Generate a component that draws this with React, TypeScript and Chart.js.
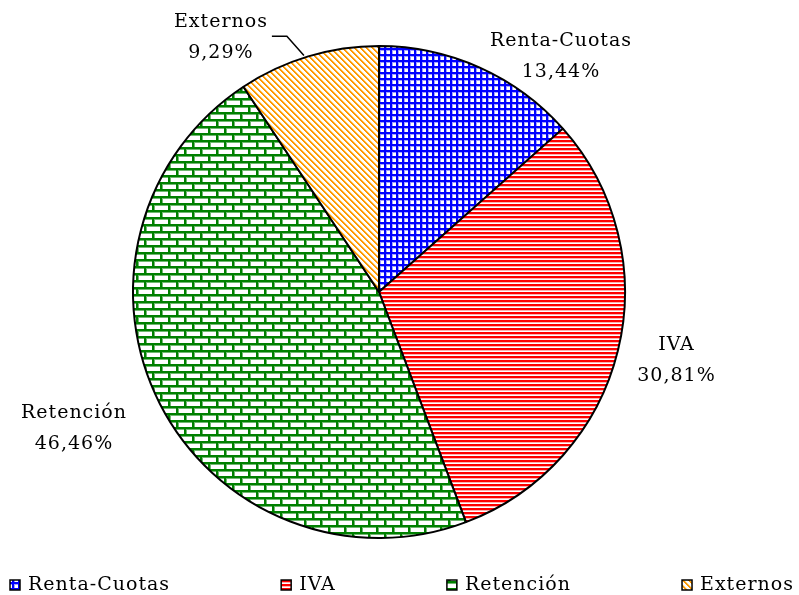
import React, { useEffect, useRef } from "react";
import { Chart, registerables } from "chart.js";

Chart.register(...registerables);

// ---- data ----
const categories = ["Renta-Cuotas", "IVA", "Retención", "Externos"];
const shares = [13.44, 30.81, 46.46, 9.29];
const patternKinds = ["grid", "hstripes", "bricks", "diagonal"];

// ---- label layout (radial distance beyond rim, alignment, nudges) ----
const labelLayout = [
  { dist: 15, align: "left", dx: 4, dy: 3, leader: false },
  { dist: 20, align: "left", dx: 0, dy: 5, leader: false },
  { dist: 37, align: "right", dx: 0, dy: 8, leader: false },
  { dist: 22, align: "right", dx: -34, dy: 2, leader: true },
];

const FONT_FAMILY = '"DejaVu Serif", "Liberation Serif", serif';
const LABEL_FONT = `19px ${FONT_FAMILY}`;
const LETTER_SPACING = "1px";
const LINE_H = 31;

const fmtPct = (v: number) => v.toFixed(2).replace(".", ",") + "%";

function makePattern(kind: string): CanvasPattern | string {
  const c = document.createElement("canvas");
  let ctx: CanvasRenderingContext2D | null = null;
  if (kind === "grid") {
    c.width = 6; c.height = 6;
    ctx = c.getContext("2d")!;
    ctx.fillStyle = "#ffffff"; ctx.fillRect(0, 0, 6, 6);
    ctx.fillStyle = "#a0a0ff"; ctx.fillRect(0, 0, 6, 3); ctx.fillRect(0, 0, 3, 6);
    ctx.fillStyle = "#0000ff"; ctx.fillRect(0, 0, 6, 2); ctx.fillRect(0, 0, 2, 6);
  } else if (kind === "hstripes") {
    c.width = 4; c.height = 4;
    ctx = c.getContext("2d")!;
    ctx.fillStyle = "#ffffff"; ctx.fillRect(0, 0, 4, 4);
    ctx.fillStyle = "#ffb0b0"; ctx.fillRect(0, 2, 4, 1);
    ctx.fillStyle = "#ff0000"; ctx.fillRect(0, 0, 4, 2);
  } else if (kind === "bricks") {
    c.width = 16; c.height = 14;
    ctx = c.getContext("2d")!;
    ctx.fillStyle = "#ffffff"; ctx.fillRect(0, 0, 16, 14);
    ctx.fillStyle = "#70b870";
    ctx.fillRect(0, 2, 16, 1); ctx.fillRect(0, 9, 16, 1);
    ctx.fillRect(2, 0, 1, 7); ctx.fillRect(10, 7, 1, 7);
    ctx.fillStyle = "#008000";
    ctx.fillRect(0, 0, 16, 2); ctx.fillRect(0, 7, 16, 2);
    ctx.fillRect(0, 0, 2, 7); ctx.fillRect(8, 7, 2, 7);
  } else {
    c.width = 6; c.height = 6;
    ctx = c.getContext("2d")!;
    ctx.fillStyle = "#ffffff"; ctx.fillRect(0, 0, 6, 6);
    for (let i = 0; i < 6; i++) {
      ctx.fillStyle = "#ffd890"; ctx.fillRect((i + 2) % 6, i, 1, 1);
      ctx.fillStyle = "#ff9900"; ctx.fillRect(i, i, 1, 1); ctx.fillRect((i + 1) % 6, i, 1, 1);
    }
  }
  return ctx.createPattern(c, "repeat") || "#ccc";
}

function setTextStyle(ctx: CanvasRenderingContext2D) {
  ctx.font = LABEL_FONT;
  try { (ctx as any).letterSpacing = LETTER_SPACING; } catch (e) { /* ignore */ }
}

const sliceLabels = {
  id: "sliceLabels",
  afterDatasetsDraw(chart: any) {
    const ctx: CanvasRenderingContext2D = chart.ctx;
    const meta = chart.getDatasetMeta(0);
    ctx.save();
    setTextStyle(ctx);
    ctx.fillStyle = "#000";
    ctx.textBaseline = "middle";
    ctx.textAlign = "left";
    meta.data.forEach((arc: any, i: number) => {
      const p = arc.getProps(["x", "y", "startAngle", "endAngle", "outerRadius"], true);
      const mid = (p.startAngle + p.endAngle) / 2;
      const L = labelLayout[i];
      const ax = p.x + Math.cos(mid) * (p.outerRadius + L.dist);
      const ay = p.y + Math.sin(mid) * (p.outerRadius + L.dist);
      const lines = [categories[i], fmtPct(shares[i])];
      const widths = lines.map((l) => ctx.measureText(l).width);
      const w = Math.max(...widths);
      const left = L.align === "left" ? ax + L.dx : ax + L.dx - w;
      const cy = ay + L.dy;
      lines.forEach((t, k) => ctx.fillText(t, left + (w - widths[k]) / 2, cy + (k - 0.5) * LINE_H));
      if (L.leader) {
        const sx = p.x + Math.cos(mid) * (p.outerRadius + 1);
        const sy = p.y + Math.sin(mid) * (p.outerRadius + 1);
        ctx.beginPath();
        ctx.strokeStyle = "#000";
        ctx.lineWidth = 1.5;
        ctx.moveTo(sx - 4, sy);
        ctx.lineTo(ax - 15, ay + 1);
        ctx.lineTo(ax - 30, ay + 1);
        ctx.stroke();
      }
    });
    ctx.restore();
  },
};

const bottomLegend = {
  id: "bottomLegend",
  afterDraw(chart: any) {
    const ctx: CanvasRenderingContext2D = chart.ctx;
    const bg = chart.data.datasets[0].backgroundColor;
    ctx.save();
    setTextStyle(ctx);
    ctx.textBaseline = "middle";
    ctx.textAlign = "left";
    const box = 10, gap = 8, x0 = 10, x1 = 794, y = 585;
    const widths = categories.map((c) => box + gap + ctx.measureText(c).width);
    const space = (x1 - x0 - widths.reduce((a, b) => a + b, 0)) / (categories.length - 1);
    let x = x0;
    categories.forEach((c, i) => {
      ctx.fillStyle = bg[i];
      ctx.fillRect(x, y - box / 2, box, box);
      ctx.strokeStyle = "#000";
      ctx.lineWidth = 1.5;
      ctx.strokeRect(x, y - box / 2, box, box);
      ctx.fillStyle = "#000";
      ctx.fillText(c, x + box + gap, y);
      x += widths[i] + space;
    });
    ctx.restore();
  },
};

export default function App() {
  const ref = useRef<HTMLCanvasElement>(null);
  useEffect(() => {
    if (!ref.current) return;
    const chart = new Chart(ref.current, {
      type: "pie",
      data: {
        labels: categories,
        datasets: [
          {
            data: shares,
            backgroundColor: patternKinds.map(makePattern) as any,
            borderColor: "#000",
            borderWidth: 2,
            radius: 246,
          } as any,
        ],
      },
      options: {
        responsive: false,
        animation: false,
        events: [],
        layout: { padding: { left: 0, right: 41, top: 0, bottom: 11 } },
        plugins: {
          legend: { display: false },
          tooltip: { enabled: false },
          title: { display: false },
        },
      },
      plugins: [sliceLabels, bottomLegend],
    });
    return () => chart.destroy();
  }, []);
  return (
    <div style={{ position: "absolute", left: 0, top: 0, width: 799, height: 595, background: "#fff" }}>
      <canvas ref={ref} width={799} height={595} style={{ display: "block" }} />
    </div>
  );
}
